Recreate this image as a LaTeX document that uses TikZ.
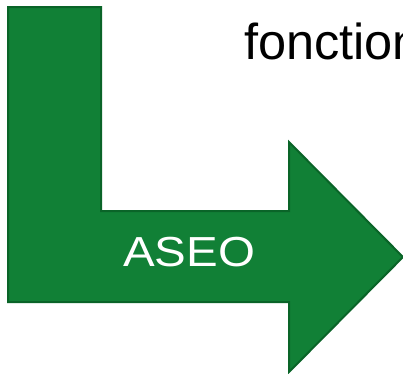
\documentclass[tikz,border=0pt]{standalone}
\usepackage{fontspec}
\setmainfont{Liberation Sans}
\definecolor{arrowfill}{RGB}{17,128,54}
\definecolor{arrowline}{RGB}{10,100,40}
\begin{document}
\begin{tikzpicture}[x=1pt,y=-1pt,
  shapestyle/.style={fill=arrowfill,draw=arrowline,line width=2pt,line join=miter},
  labeltext/.style={inner sep=0pt,font=\fontsize{42}{42}\selectfont,text=white,xscale=1.13},
  toptext/.style={inner sep=0pt,font=\fontsize{50.5}{50.5}\selectfont,text=black}]
\useasboundingbox (0,0) rectangle (403,373);
\fill[white] (0,0) rectangle (403,373);
\draw[shapestyle] (8,7) -- (101,7) -- (101,211) -- (289,211) -- (289,142)
  -- (403,257) -- (289,372) -- (289,302) -- (8,302) -- cycle;
\node[labeltext,anchor=center] (aseo) at (189,252) {ASEO};
\node[toptext,anchor=base west] (fonction) at (244,59) {fonction};
\end{tikzpicture}
\end{document}
